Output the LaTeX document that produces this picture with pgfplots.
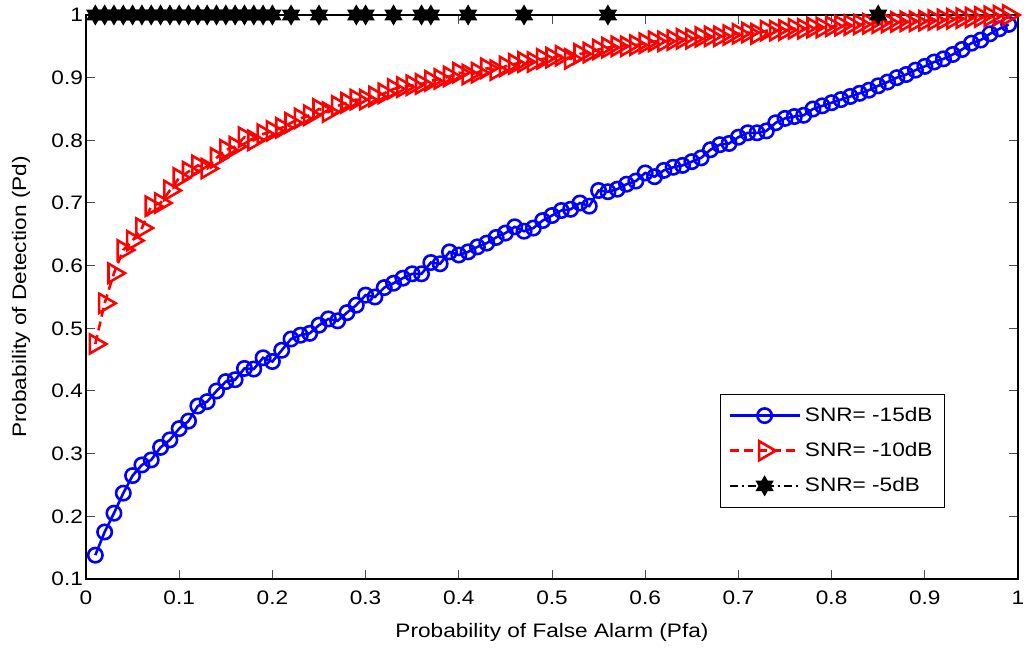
\documentclass[border=0pt]{standalone}
\usepackage{pgfplots}
\pgfplotsset{compat=1.18}
\usepackage{fontspec}
\setmainfont{Liberation Sans}[FakeStretch=1.16]
\pgfdeclareplotmark{hexagram}{%
  \pgfpathmoveto{\pgfpointpolar{90}{\pgfplotmarksize}}%
  \pgfpathlineto{\pgfpointpolar{120}{0.577\pgfplotmarksize}}%
  \pgfpathlineto{\pgfpointpolar{150}{\pgfplotmarksize}}%
  \pgfpathlineto{\pgfpointpolar{180}{0.577\pgfplotmarksize}}%
  \pgfpathlineto{\pgfpointpolar{210}{\pgfplotmarksize}}%
  \pgfpathlineto{\pgfpointpolar{240}{0.577\pgfplotmarksize}}%
  \pgfpathlineto{\pgfpointpolar{270}{\pgfplotmarksize}}%
  \pgfpathlineto{\pgfpointpolar{300}{0.577\pgfplotmarksize}}%
  \pgfpathlineto{\pgfpointpolar{330}{\pgfplotmarksize}}%
  \pgfpathlineto{\pgfpointpolar{0}{0.577\pgfplotmarksize}}%
  \pgfpathlineto{\pgfpointpolar{30}{\pgfplotmarksize}}%
  \pgfpathlineto{\pgfpointpolar{60}{0.577\pgfplotmarksize}}%
  \pgfpathclose
  \pgfusepathqfillstroke
}
\begin{document}
\begin{tikzpicture}
\begin{axis}[
  scale only axis, width=466pt, height=282pt,
  xmin=0, xmax=1, ymin=0.1, ymax=1,
  xtick={0,0.1,...,1.01}, ytick={0.1,0.2,...,1.01},
  xticklabels={0,0.1,0.2,0.3,0.4,0.5,0.6,0.7,0.8,0.9,1},
  yticklabels={0.1,0.2,0.3,0.4,0.5,0.6,0.7,0.8,0.9,1},
  tick align=inside, xtick pos=both, ytick pos=both,
  major tick length=4.5pt,
  tick style={black!70, line width=0.5pt},
  axis line style={black, line width=0.6pt},
  ticklabel style={font=\fontsize{9.75}{11}\selectfont},
  xticklabel style={yshift=-2.5pt},
  yticklabel style={xshift=2pt},
  /pgf/number format/assume math mode=true,
  xlabel={Probability of False Alarm (Pfa)},
  ylabel={Probability of Detection (Pd)},
  xlabel style={at={(axis description cs:0.5,-0.094)}, anchor=center, font=\fontsize{9.75}{11}\selectfont},
  ylabel style={at={(axis description cs:-0.0697,0.5)}, anchor=center, font=\fontsize{9.75}{11}\selectfont},
  legend style={at={(axis description cs:0.9217,0.126)}, anchor=south east, draw=black, line width=0.5pt, font=\fontsize{9.75}{11}\selectfont, row sep=5pt, inner xsep=4pt, inner ysep=4.5pt},
  legend cell align=left,
  legend image code/.code={\draw[mark repeat=2,mark phase=2] plot coordinates {(0pt,0pt)(17.5pt,0pt)(35pt,0pt)};},
]
\addplot[blue, line width=1.3pt, mark=o, mark size=3.6pt, mark options={solid}] coordinates {
(0.01,0.138)(0.02,0.175)(0.03,0.205)(0.04,0.237)(0.05,0.265)(0.06,0.282)(0.07,0.29)(0.08,0.31)(0.09,0.322)(0.10,0.34)
(0.11,0.352)(0.12,0.376)(0.13,0.383)(0.14,0.40)(0.15,0.415)(0.16,0.418)(0.17,0.436)(0.18,0.435)(0.19,0.453)(0.20,0.447)
(0.21,0.465)(0.22,0.483)(0.23,0.489)(0.24,0.492)(0.25,0.505)(0.26,0.515)(0.27,0.512)(0.28,0.525)(0.29,0.537)(0.30,0.553)
(0.31,0.55)(0.32,0.565)(0.33,0.572)(0.34,0.58)(0.35,0.587)(0.36,0.587)(0.37,0.605)(0.38,0.603)(0.39,0.622)(0.40,0.617)
(0.41,0.622)(0.42,0.63)(0.43,0.636)(0.44,0.645)(0.45,0.652)(0.46,0.662)(0.47,0.655)(0.48,0.66)(0.49,0.672)(0.50,0.68)
(0.51,0.688)(0.52,0.69)(0.53,0.70)(0.54,0.695)(0.55,0.72)(0.56,0.718)(0.57,0.722)(0.58,0.73)(0.59,0.735)(0.60,0.748)
(0.61,0.742)(0.62,0.752)(0.63,0.757)(0.64,0.76)(0.65,0.766)(0.66,0.772)(0.67,0.785)(0.68,0.793)(0.69,0.795)(0.70,0.805)
(0.71,0.812)(0.72,0.812)(0.73,0.815)(0.74,0.828)(0.75,0.835)(0.76,0.838)(0.77,0.84)(0.78,0.85)(0.79,0.855)(0.80,0.86)
(0.81,0.865)(0.82,0.87)(0.83,0.875)(0.84,0.88)(0.85,0.887)(0.86,0.893)(0.87,0.90)(0.88,0.905)(0.89,0.912)(0.90,0.918)
(0.91,0.925)(0.92,0.93)(0.93,0.937)(0.94,0.945)(0.95,0.955)(0.96,0.96)(0.97,0.97)(0.98,0.978)(0.99,0.985)
};
\addlegendentry{SNR= -15dB}
\addplot[red, line width=1.3pt, dash pattern=on 4.5pt off 2.5pt, mark=triangle, mark size=5.5pt, mark options={solid, rotate=-90}] coordinates {
(0.01,0.475)(0.02,0.54)(0.03,0.588)(0.04,0.625)(0.05,0.64)(0.06,0.66)(0.07,0.695)(0.08,0.70)(0.09,0.72)(0.10,0.74)
(0.11,0.75)(0.12,0.76)(0.13,0.755)(0.14,0.772)(0.15,0.785)(0.16,0.79)(0.17,0.805)(0.18,0.80)(0.19,0.81)(0.20,0.815)
(0.21,0.82)(0.22,0.828)(0.23,0.835)(0.24,0.84)(0.25,0.85)(0.26,0.845)(0.27,0.855)(0.28,0.86)(0.29,0.865)(0.30,0.865)
(0.31,0.87)(0.32,0.875)(0.33,0.882)(0.34,0.885)(0.35,0.888)(0.36,0.89)(0.37,0.895)(0.38,0.898)(0.39,0.902)(0.40,0.908)
(0.41,0.905)(0.42,0.908)(0.43,0.915)(0.44,0.912)(0.45,0.918)(0.46,0.922)(0.47,0.925)(0.48,0.925)(0.49,0.93)(0.50,0.932)
(0.51,0.935)(0.52,0.93)(0.53,0.938)(0.54,0.94)(0.55,0.945)(0.56,0.948)(0.57,0.95)(0.58,0.95)(0.59,0.952)(0.60,0.955)
(0.61,0.958)(0.62,0.958)(0.63,0.96)(0.64,0.962)(0.65,0.962)(0.66,0.965)(0.67,0.966)(0.68,0.966)(0.69,0.968)(0.70,0.97)
(0.71,0.972)(0.72,0.97)(0.73,0.975)(0.74,0.975)(0.75,0.976)(0.76,0.978)(0.77,0.978)(0.78,0.98)(0.79,0.98)(0.80,0.982)
(0.81,0.983)(0.82,0.984)(0.83,0.985)(0.84,0.986)(0.85,0.987)(0.86,0.988)(0.87,0.989)(0.88,0.99)(0.89,0.99)(0.90,0.991)
(0.91,0.992)(0.92,0.993)(0.93,0.994)(0.94,0.995)(0.95,0.996)(0.96,0.997)(0.97,0.998)(0.98,0.999)(0.99,1.0)
};
\addlegendentry{SNR= -10dB}
\addplot[black, line width=1.3pt, dash pattern=on 4pt off 2pt on 1pt off 2pt, mark=hexagram, mark size=4pt, mark options={solid, fill=black}] coordinates {
(0.01,1)(0.02,1)(0.03,1)(0.04,1)(0.05,1)(0.06,1)(0.07,1)(0.08,1)(0.09,1)(0.10,1)
(0.11,1)(0.12,1)(0.13,1)(0.14,1)(0.15,1)(0.16,1)(0.17,1)(0.18,1)(0.19,1)(0.20,1)
(0.22,1)(0.25,1)(0.29,1)(0.30,1)(0.33,1)(0.36,1)(0.37,1)(0.41,1)(0.47,1)(0.56,1)(0.85,1)
};
\addlegendentry{SNR= -5dB}
\end{axis}
\pgfresetboundingbox
\path[use as bounding box] ([shift={(-43pt,-35.5pt)}]current axis.south west) rectangle ([shift={(7pt,7.5pt)}]current axis.north east);
\end{tikzpicture}
\end{document}
